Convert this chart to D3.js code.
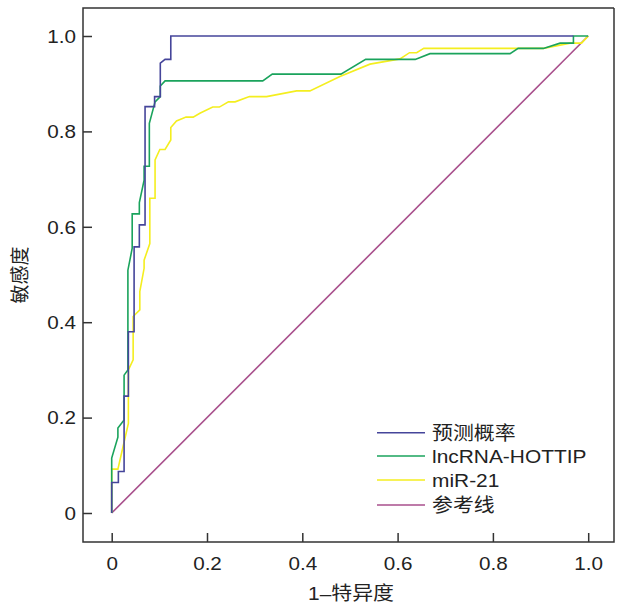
<!DOCTYPE html>
<html lang="zh">
<head>
<meta charset="UTF-8">
<title>ROC</title>
<style>
  body { margin: 0; background: #fff; }
  text { font-family: "Liberation Sans", Arial, "Noto Sans CJK SC", sans-serif; fill: #222; }
</style>
</head>
<body>
<div id="chart"></div>
<script src="https://cdn.jsdelivr.net/npm/d3@7"></script>
<script>
// ROC points [1-specificity, sensitivity]
const predProb = [
  [0, 0], [0, 0.064], [0.014, 0.064], [0.014, 0.087], [0.026, 0.087], [0.026, 0.245],
  [0.035, 0.245], [0.035, 0.380], [0.047, 0.380], [0.047, 0.558], [0.058, 0.558],
  [0.058, 0.604], [0.070, 0.604], [0.070, 0.852], [0.090, 0.852], [0.090, 0.873],
  [0.102, 0.873], [0.102, 0.943], [0.112, 0.951], [0.124, 0.951], [0.124, 1.0], [0.969, 1.0]
];
const hottip = [
  [0, 0], [0, 0.115], [0.013, 0.159], [0.013, 0.178], [0.026, 0.195], [0.026, 0.289],
  [0.034, 0.300], [0.034, 0.509], [0.043, 0.555], [0.043, 0.627], [0.058, 0.627],
  [0.058, 0.651], [0.068, 0.698], [0.068, 0.727], [0.079, 0.727], [0.079, 0.817],
  [0.091, 0.862], [0.102, 0.873], [0.102, 0.895], [0.112, 0.906], [0.317, 0.906],
  [0.337, 0.920], [0.481, 0.920], [0.533, 0.951], [0.637, 0.951], [0.668, 0.963],
  [0.836, 0.963], [0.853, 0.974], [0.906, 0.974], [0.941, 0.985], [0.969, 0.985],
  [0.969, 1.0], [1, 1]
];
const mir21 = [
  [0, 0], [0, 0.092], [0.013, 0.092], [0.024, 0.140], [0.035, 0.188], [0.035, 0.300],
  [0.045, 0.321], [0.045, 0.412], [0.059, 0.426], [0.059, 0.464], [0.068, 0.513],
  [0.068, 0.530], [0.080, 0.565], [0.080, 0.660], [0.091, 0.660], [0.091, 0.740],
  [0.101, 0.762], [0.112, 0.762], [0.124, 0.782], [0.124, 0.808], [0.136, 0.822],
  [0.156, 0.830], [0.171, 0.830], [0.185, 0.838], [0.212, 0.851], [0.226, 0.851],
  [0.245, 0.862], [0.259, 0.862], [0.289, 0.873], [0.325, 0.873], [0.388, 0.885],
  [0.416, 0.885], [0.479, 0.915], [0.542, 0.941], [0.605, 0.952], [0.625, 0.965],
  [0.640, 0.965], [0.655, 0.974], [0.906, 0.974], [0.962, 0.985], [0.986, 0.985], [1, 1]
];
const refLine = [[0, 0], [1, 1]];

const seriesNames = ["预测概率", "lncRNA-HOTTIP", "miR-21", "参考线"];
const seriesColors = ["#45459a", "#1aa35c", "#f4ee1f", "#a84f8c"];
const tickValues = [0, 0.2, 0.4, 0.6, 0.8, 1.0];
const tickLabels = ["0", "0.2", "0.4", "0.6", "0.8", "1.0"];
const xTitle = "1–特异度";
const yTitle = "敏感度";

const width = 617, height = 606;
const frame = { left: 83, top: 8, right: 614, bottom: 542 };

const svg = d3.select("#chart").append("svg")
  .attr("width", width)
  .attr("height", height);

const x = d3.scaleLinear().domain([0, 1]).range([111.7, 588.2]);
const y = d3.scaleLinear().domain([0, 1]).range([513, 36]);

// curves (reference first so it sits underneath)
const line = d3.line().x(d => x(d[0])).y(d => y(d[1]));
const allSeries = [predProb, hottip, mir21, refLine];
const drawOrder = [3, 2, 1, 0];
drawOrder.forEach(i => {
  svg.append("path")
    .datum(allSeries[i])
    .attr("fill", "none")
    .attr("stroke", seriesColors[i])
    .attr("stroke-width", 1.6)
    .attr("d", line);
});

// axes with inward ticks
const labelOf = d => tickLabels[tickValues.indexOf(d)];
const xAxis = svg.append("g")
  .attr("transform", `translate(0,${frame.bottom})`)
  .call(d3.axisBottom(x).tickValues(tickValues).tickFormat(labelOf)
    .tickSizeInner(-9).tickSizeOuter(0).tickPadding(16));
const yAxis = svg.append("g")
  .attr("transform", `translate(${frame.left},0)`)
  .call(d3.axisLeft(y).tickValues(tickValues).tickFormat(labelOf)
    .tickSizeInner(-9).tickSizeOuter(0).tickPadding(6));

[xAxis, yAxis].forEach(g => {
  g.select(".domain").remove();
  g.selectAll(".tick line").attr("stroke", "#333").attr("stroke-width", 1.5);
  g.selectAll(".tick text")
    .style("font-size", "17.5px")
    .attr("fill", "#222");
});
xAxis.selectAll(".tick text").attr("transform", "scale(1.18,1)");
yAxis.selectAll(".tick text").attr("dy", "0.36em").attr("transform", "scale(1.18,1)");

// frame
svg.append("path")
  .attr("d", `M${frame.right},${frame.top}H${frame.left}V${frame.bottom}H${frame.right}V${frame.top}`)
  .attr("fill", "none")
  .attr("stroke", "#333")
  .attr("stroke-width", 1.5);

// axis titles
svg.append("text")
  .attr("transform", "translate(351,600) scale(1.1,1)")
  .attr("text-anchor", "middle")
  .style("font-size", "19px")
  .text(xTitle);

svg.append("text")
  .attr("transform", "translate(27,275) rotate(-90)")
  .attr("text-anchor", "middle")
  .style("font-size", "19px")
  .text(yTitle);

// legend
const legendRows = [432.7, 456, 480, 505];
const legend = svg.append("g");
seriesNames.forEach((name, i) => {
  legend.append("line")
    .attr("x1", 377).attr("x2", 425)
    .attr("y1", legendRows[i]).attr("y2", legendRows[i])
    .attr("stroke", seriesColors[i])
    .attr("stroke-width", 1.6);
  legend.append("text")
    .attr("transform", `translate(432,${legendRows[i] + 6.8}) scale(1.1,1)`)
    .style("font-size", "19px")
    .text(name);
});
</script>
</body>
</html>
